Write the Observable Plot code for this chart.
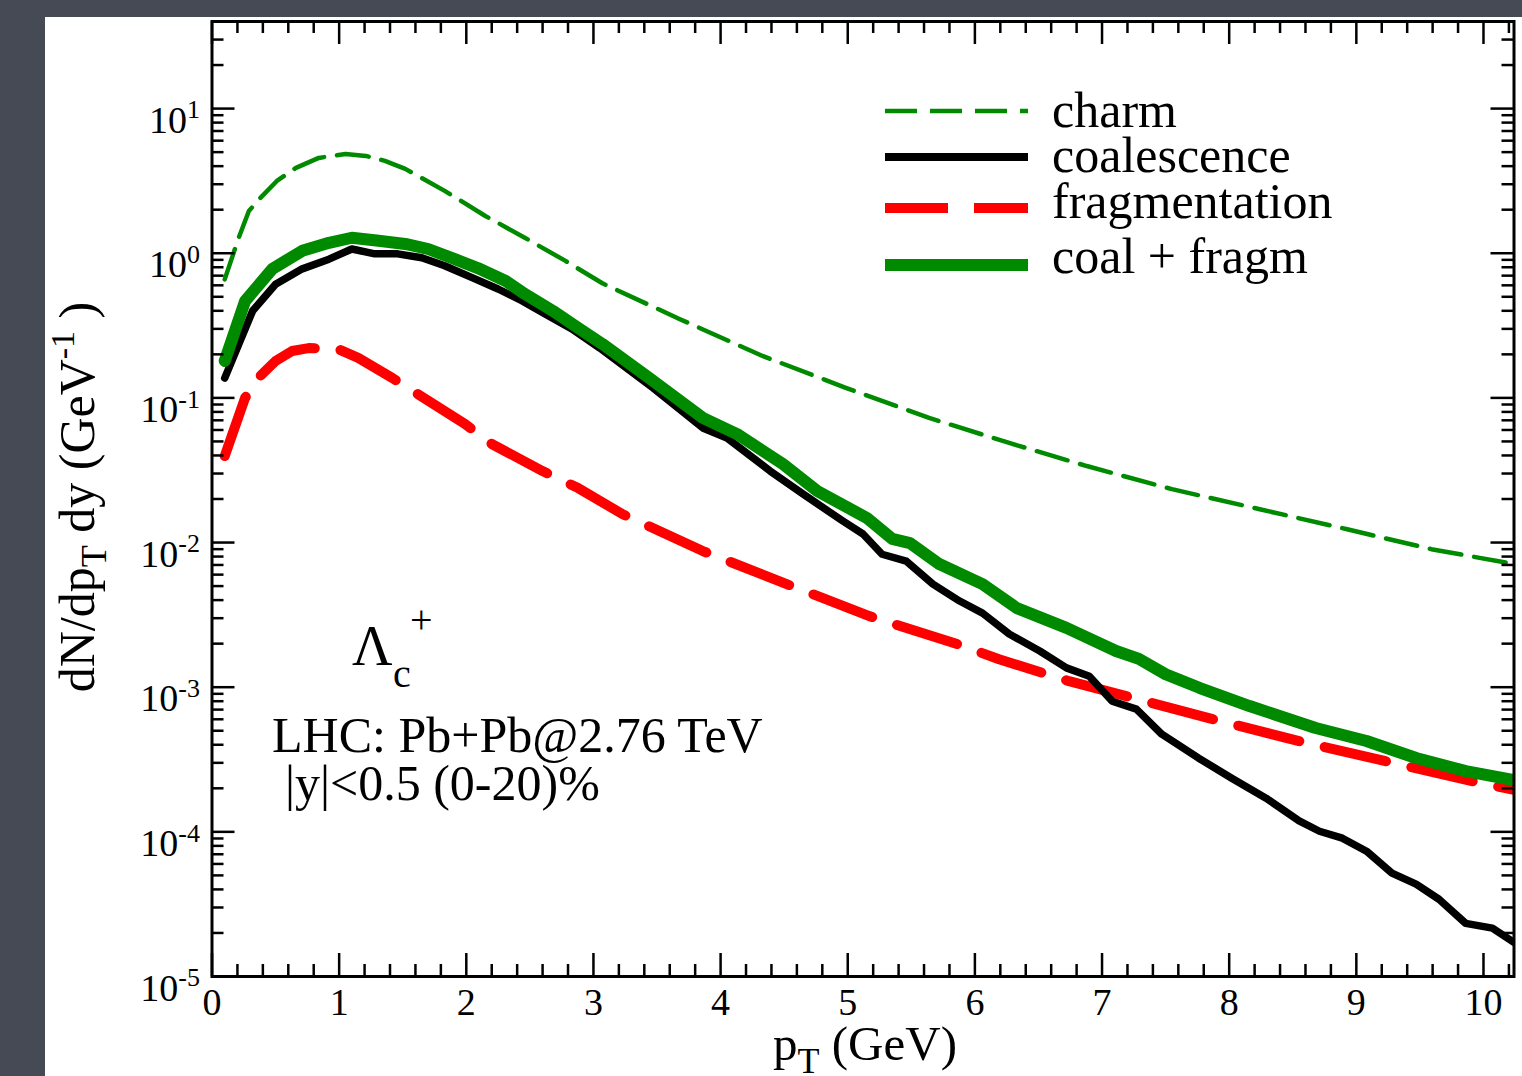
<!DOCTYPE html>
<html><head><meta charset="utf-8">
<script src="https://cdn.jsdelivr.net/npm/d3@7"></script>
<script src="https://cdn.jsdelivr.net/npm/@observablehq/plot@0.6"></script>
<style>
html,body{margin:0;padding:0;background:#464a54;}
#chart{width:1522px;height:1076px;}
</style></head><body><div id="chart"></div>
<script>
// ---- data ----
const charmPt = [0.1,0.21,0.29,0.38,0.51,0.66,0.84,1.05,1.21,1.36,1.52,1.83,2.15,2.46,2.78,3.07,3.68,4.33,4.99,5.64,6.27,6.88,7.55,8.24,8.92,9.59,10.24];
const charmY  = [0.66,1.28,1.96,2.41,3.16,3.89,4.56,4.86,4.71,4.35,3.83,2.70,1.81,1.28,0.885,0.62,0.35,0.195,0.117,0.0727,0.0488,0.0338,0.0234,0.0170,0.0124,0.0090,0.0071];

const coalPt = [0.1,0.32,0.50,0.71,0.92,1.10,1.28,1.46,1.65,1.83,2.05,2.25,2.44,2.62,2.83,3.05,3.47,3.86,4.05,4.39,4.65,4.96,5.12,5.27,5.46,5.67,5.88,6.06,6.27,6.51,6.72,6.90,7.08,7.27,7.47,7.76,8.02,8.29,8.55,8.71,8.89,9.08,9.28,9.47,9.65,9.86,10.07,10.24];
const coalY  = [0.137,0.40,0.61,0.78,0.91,1.07,0.99,0.99,0.93,0.82,0.675,0.566,0.468,0.38,0.30,0.221,0.117,0.062,0.0528,0.0312,0.0216,0.0141,0.01146,0.0083,0.00744,0.00516,0.00394,0.00325,0.00233,0.00178,0.00136,0.00119,0.0008,0.000705,0.000473,0.000323,0.000235,0.000171,0.000119,0.000101,0.0000904,0.0000735,0.0000518,0.0000435,0.0000342,0.0000233,0.0000216,0.0000172];

const fragPt = [0.1,0.26,0.38,0.50,0.63,0.76,0.99,1.15,1.42,1.62,1.99,2.20,2.60,2.88,3.23,3.86,4.52,5.17,5.86,6.19,6.74,7.19,7.87,8.55,9.23,9.91,10.24];
const fragY  = [0.0396,0.100,0.142,0.180,0.211,0.221,0.218,0.189,0.137,0.106,0.066,0.048,0.0312,0.0238,0.0157,0.00873,0.00516,0.0031,0.00199,0.00156,0.0011,0.000867,0.000601,0.000424,0.000308,0.000224,0.000195];

const sumPt = [0.1,0.26,0.475,0.71,0.92,1.10,1.31,1.52,1.70,1.91,2.09,2.31,2.46,2.68,2.88,3.07,3.44,3.86,4.13,4.49,4.76,5.15,5.35,5.49,5.72,6.06,6.33,6.72,7.11,7.29,7.50,7.77,8.16,8.68,9.08,9.47,9.86,10.24];
const sumY  = [0.18,0.467,0.78,1.04,1.18,1.28,1.22,1.16,1.07,0.91,0.79,0.643,0.523,0.40,0.304,0.236,0.137,0.0727,0.0562,0.0349,0.0227,0.0148,0.0106,0.0099,0.0071,0.00516,0.00352,0.00257,0.00178,0.00157,0.00123,0.000987,0.000741,0.000522,0.000425,0.000324,0.000263,0.000228];

const seriesNames = ["charm","coalescence","fragmentation","coal + fragm"];
const xTickLabels = [0,1,2,3,4,5,6,7,8,9,10];
const yDecades = [1e-5,1e-4,1e-3,1e-2,1e-1,1,10];

// ---- layout ----
const W=1522, H=1076, ML=211.5, MR=8.5, MT=21, MB=100;
const PW = W-ML-MR, PH = H-MT-MB;
const GREEN="#008a00", RED="#ff0000";
const FONT='"Liberation Serif","Times New Roman",serif';

const zip = (a,b) => a.map((x,i)=>({x, y:b[i]}));
const charm = zip(charmPt, charmY), coal = zip(coalPt, coalY), frag = zip(fragPt, fragY), sum = zip(sumPt, sumY);

const yMinor = [];
for (let e=-5;e<=1;e++) for (let m=2;m<=9;m++){ const v=m*Math.pow(10,e); if (v<=40) yMinor.push(v); }
const xMinor = d3.range(0, 10.25, 0.2).filter(v => Math.abs(v-Math.round(v))>1e-6);

const MAJ=23, MIN=12, TW=2.5;

const svg = Plot.plot({
  width: W, height: H,
  marginLeft: ML, marginRight: MR, marginTop: MT, marginBottom: MB,
  x: {domain:[0,10.24]},
  y: {type:"log", domain:[1e-5,40]},
  style: {fontFamily: FONT, fontSize:"38px", background:"#464a54", color:"black"},
  marks: [
    Plot.line(charm, {x:"x", y:"y", stroke:GREEN, strokeWidth:4.5, strokeDasharray:"32,13", clip:true}),
    Plot.line(frag, {x:"x", y:"y", stroke:RED, strokeWidth:10, strokeDasharray:"63,26", clip:true}),
    Plot.line(coal, {x:"x", y:"y", stroke:"black", strokeWidth:7.5, clip:true}),
    Plot.line(sum, {x:"x", y:"y", stroke:GREEN, strokeWidth:12, clip:true}),
    // ticks (inward, all four sides)
    Plot.tickY(yDecades, {y:d=>d, stroke:"black", strokeWidth:TW, insetRight:PW-MAJ}),
    Plot.tickY(yDecades, {y:d=>d, stroke:"black", strokeWidth:TW, insetLeft:PW-MAJ}),
    Plot.tickY(yMinor, {y:d=>d, stroke:"black", strokeWidth:TW, insetRight:PW-MIN}),
    Plot.tickY(yMinor, {y:d=>d, stroke:"black", strokeWidth:TW, insetLeft:PW-MIN}),
    Plot.tickX(xTickLabels, {x:d=>d, stroke:"black", strokeWidth:TW, insetTop:PH-MAJ}),
    Plot.tickX(xTickLabels, {x:d=>d, stroke:"black", strokeWidth:TW, insetBottom:PH-MAJ}),
    Plot.tickX(xMinor, {x:d=>d, stroke:"black", strokeWidth:TW, insetTop:PH-MIN}),
    Plot.tickX(xMinor, {x:d=>d, stroke:"black", strokeWidth:TW, insetBottom:PH-MIN}),
    Plot.frame({stroke:"black", strokeWidth:3}),
    Plot.axisX({ticks:xTickLabels, tickSize:0, tickPadding:12, fontSize:38, label:null, tickFormat:d=>String(d)}),
    Plot.axisY({ticks:yDecades, tickSize:0, tickPadding:12, dy:12, fontSize:38, label:null,
      tickFormat:d=>"10^"+Math.round(Math.log10(d))})
  ]
});

const NS="http://www.w3.org/2000/svg";
// white panel behind everything
const bg = document.createElementNS(NS,"rect");
bg.setAttribute("x",45); bg.setAttribute("y",17); bg.setAttribute("width",W-45); bg.setAttribute("height",H-17); bg.setAttribute("fill","white");
svg.insertBefore(bg, svg.firstChild);

// superscript exponents on y tick labels
svg.querySelectorAll('[aria-label="y-axis tick label"] text').forEach(t=>{
  const s=t.textContent; if(!s.includes("^")) return;
  const [b,e]=s.split("^");
  t.textContent="";
  const t1=document.createElementNS(NS,"tspan"); t1.textContent=b;
  const t2=document.createElementNS(NS,"tspan"); t2.textContent=e;
  t2.setAttribute("dy","-0.55em"); t2.setAttribute("font-size","26px");
  t.append(t1,t2);
});

const g = d3.select(svg).append("g").attr("font-family",FONT).attr("fill","black").attr("text-anchor","start");

// axis titles
const xl = g.append("text").attr("x",865).attr("y",1060).attr("text-anchor","middle").attr("font-size",49);
xl.append("tspan").text("p");
xl.append("tspan").attr("dy",13).attr("font-size",36).text("T");
xl.append("tspan").attr("dy",-13).text(" (GeV)");

const yl = g.append("text").attr("transform","translate(94,497) rotate(-90)").attr("text-anchor","middle").attr("font-size",50);
yl.append("tspan").text("dN/dp");
yl.append("tspan").attr("dy",12).attr("font-size",36).text("T");
yl.append("tspan").attr("dy",-12).text(" dy (GeV");
yl.append("tspan").attr("dy",-20).attr("font-size",34).text("-1");
yl.append("tspan").attr("dy",20).text(" )");

// legend
const leg = [
  {name:seriesNames[0], y:111, stroke:GREEN, w:4.5, dash:"32,13"},
  {name:seriesNames[1], y:157, stroke:"black", w:8, dash:null},
  {name:seriesNames[2], y:208, stroke:RED, w:10, dash:"63,26"},
  {name:seriesNames[3], y:265, stroke:GREEN, w:12, dash:null}
];
const textBase = [127,172,218,273];
leg.forEach((d,i)=>{
  const l=g.append("line").attr("x1",885).attr("x2",1028).attr("y1",d.y).attr("y2",d.y)
    .attr("stroke",d.stroke).attr("stroke-width",d.w);
  if(d.dash) l.attr("stroke-dasharray",d.dash);
  g.append("text").attr("x",1052).attr("y",textBase[i]).attr("font-size",50).text(d.name);
});

// annotations
g.append("text").attr("x",352).attr("y",665).attr("font-size",56).text("Λ");
g.append("text").attr("x",393).attr("y",687).attr("font-size",40).text("c");
g.append("text").attr("x",410).attr("y",633).attr("font-size",40).text("+");
g.append("text").attr("x",272).attr("y",752).attr("font-size",50).text("LHC: Pb+Pb@2.76 TeV");
g.append("text").attr("x",285).attr("y",800).attr("font-size",50).text("|y|<0.5 (0-20)%");

document.getElementById("chart").appendChild(svg);
</script></body></html>
